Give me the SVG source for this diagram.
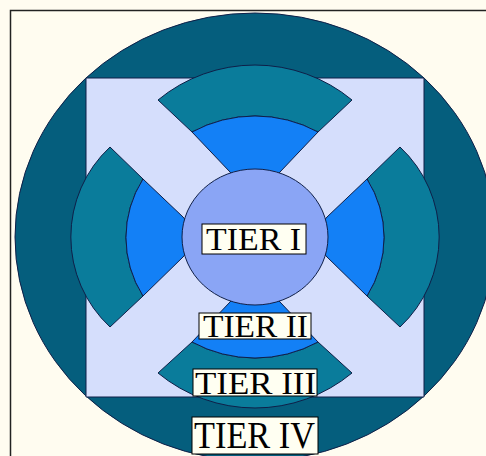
<svg xmlns="http://www.w3.org/2000/svg" width="486" height="456" viewBox="0 0 486 456">
  <style>
    .edge { stroke: #0f1f48; stroke-width: 1; stroke-linejoin: round; }
    .t4 { fill: #055e7d; }
    .sq { fill: #d5defc; }
    .t3 { fill: #0a7c9b; }
    .t2 { fill: #1380f6; }
    .t1 { fill: #8aa5f5; }
    .lbl rect { fill: #fffff2; stroke: #000; stroke-width: 1; }
    .lbl text { font-family: "Liberation Serif", "Times New Roman", serif; fill: #000; }
  </style>
  <rect x="0" y="0" width="486" height="456" fill="#fffcf0"/>
  <rect x="10.5" y="10.5" width="490" height="470" fill="none" stroke="#222" stroke-width="1.5"/>

  <g id="tier-4">
    <ellipse class="t4 edge" cx="255" cy="237" rx="240" ry="224"/>
  </g>
  <g id="cross-square">
    <rect class="sq edge" x="86" y="78" width="338" height="319"/>
  </g>
  <g id="tier-3">
    <path class="t3 edge" d="M158,100 A152,152 0 0 1 352,100 L318,132 A132,132 0 0 0 192,132 Z"/>
    <path class="t3 edge" d="M110,147 A123,123 0 0 0 110,327 L143,296 A109,109 0 0 1 143,179 Z"/>
    <path class="t3 edge" d="M400,147 A123,123 0 0 1 400,327 L367,296 A109,109 0 0 0 367,179 Z"/>
    <path class="t3 edge" d="M158,373 A152,152 0 0 0 352,373 L318,342 A132,132 0 0 1 192,342 Z"/>
  </g>
  <g id="tier-2">
    <path class="t2 edge" d="M192,132 A132,132 0 0 1 318,132 L280,172 L255,200 L230,172 Z"/>
    <path class="t2 edge" d="M143,179 A109,109 0 0 0 143,296 L183,257 L200,237 L183,217 Z"/>
    <path class="t2 edge" d="M367,179 A109,109 0 0 1 367,296 L327,257 L310,237 L327,217 Z"/>
    <path class="t2 edge" d="M192,342 A132,132 0 0 0 318,342 L280,302 L255,274 L230,302 Z"/>
  </g>
  <g id="tier-1">
    <ellipse class="t1 edge" cx="255" cy="237" rx="73" ry="68"/>
  </g>

  <g id="label-tier-1" class="lbl">
    <rect x="202" y="224" width="104" height="30"/>
    <text x="206" y="250" font-size="32" textLength="95" lengthAdjust="spacingAndGlyphs">TIER I</text>
  </g>
  <g id="label-tier-2" class="lbl">
    <rect x="199" y="313" width="112" height="26"/>
    <text x="203" y="337" font-size="31" textLength="105" lengthAdjust="spacingAndGlyphs">TIER II</text>
  </g>
  <g id="label-tier-3" class="lbl">
    <rect x="193" y="369" width="124" height="27"/>
    <text x="195" y="394" font-size="31" textLength="121" lengthAdjust="spacingAndGlyphs">TIER III</text>
  </g>
  <g id="label-tier-4" class="lbl">
    <rect x="192" y="417" width="126" height="37"/>
    <text x="194" y="448" font-size="37" textLength="121" lengthAdjust="spacingAndGlyphs">TIER IV</text>
  </g>
</svg>
